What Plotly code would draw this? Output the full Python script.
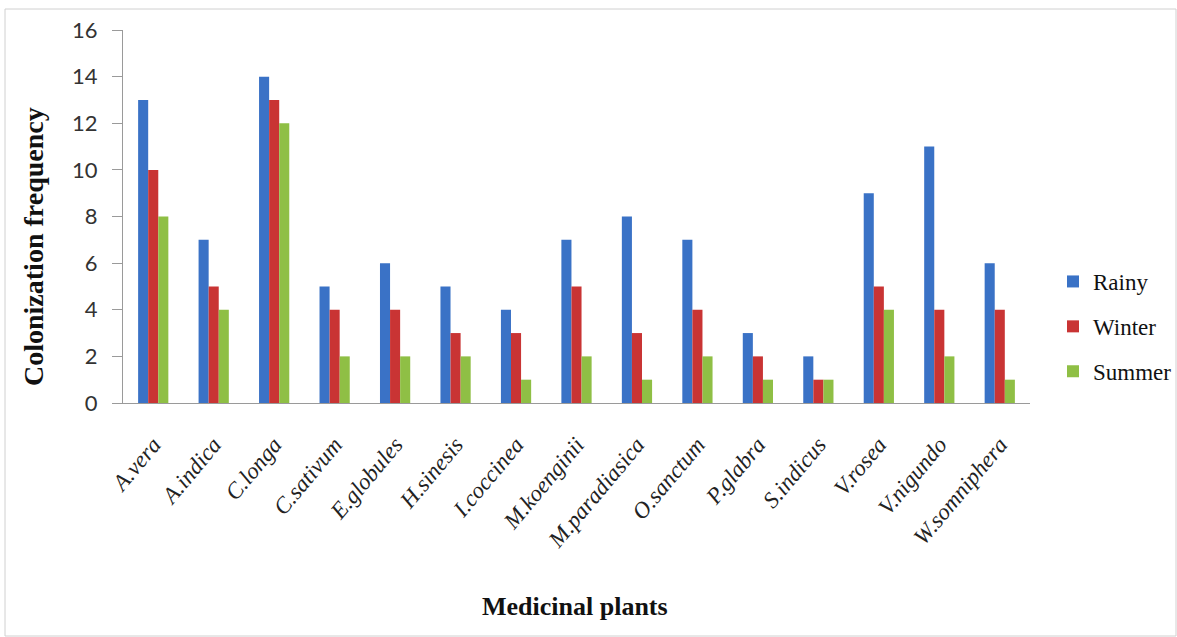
import plotly.graph_objects as go

categories = ["A.vera", "A.indica", "C.longa", "C.sativum", "E.globules", "H.sinesis",
              "I.coccinea", "M.koenginii", "M.paradiasica", "O.sanctum", "P.glabra",
              "S.indicus", "V.rosea", "V.nigundo", "W.somniphera"]
rainy = [13, 7, 14, 5, 6, 5, 4, 7, 8, 7, 3, 2, 9, 11, 6]
winter = [10, 5, 13, 4, 4, 3, 3, 5, 3, 4, 2, 1, 5, 4, 4]
summer = [8, 4, 12, 2, 2, 2, 1, 2, 1, 2, 1, 1, 4, 2, 1]
y_ticks = [0, 2, 4, 6, 8, 10, 12, 14, 16]

W, H = 1177, 637
L, R, T, B = 123, 147, 30, 234
pw, ph = W - L - R, H - T - B

def px_x(p):
    return (p - L) / pw

def px_y(p):
    return (H - B - p) / ph

fig = go.Figure()
series = [("Rainy", rainy, "#3A72C6"), ("Winter", winter, "#C93434"), ("Summer", summer, "#8FBF45")]
for name, vals, col in series:
    fig.add_trace(go.Bar(name=name, x=categories, y=vals, marker=dict(color=col, line=dict(width=0)),
                         legendgroup=name))

fig.update_layout(
    width=W, height=H,
    margin=dict(l=L, r=R, t=T, b=B, autoexpand=False),
    paper_bgcolor="white", plot_bgcolor="white",
    barmode="group", bargap=0.5, bargroupgap=0,
    showlegend=True,
    legend=dict(x=px_x(1053), y=px_y(260), xanchor="left", yanchor="top",
                font=dict(family="Liberation Serif", size=23, color="#111"),
                tracegroupgap=12, itemwidth=30, bgcolor="rgba(0,0,0,0)"),
    xaxis=dict(tickangle=-50, tickfont=dict(family="Liberation Serif", size=23, color="#222", style="italic"),
               showline=True, linecolor="#9a9a9a", linewidth=1, ticks="", showgrid=False,
               ticklabelstandoff=18, range=[-0.5, len(categories) - 0.5]),
    yaxis=dict(range=[0, 16], tickvals=y_ticks, tickfont=dict(family="Lato", size=22, color="#333"),
               showline=True, linecolor="#9a9a9a", linewidth=1, ticks="outside", ticklen=10,
               tickcolor="#9a9a9a", showgrid=False, zeroline=False, ticklabelstandoff=10),
    annotations=[
        dict(text="<b>Colonization frequency</b>", x=px_x(34), y=px_y(247), xref="paper", yref="paper",
             xanchor="center", yanchor="middle",
             textangle=-90, showarrow=False, font=dict(family="Liberation Serif", size=28, color="#111")),
        dict(text="<b>Medicinal plants</b>", x=px_x(575), y=px_y(606), xref="paper", yref="paper",
             xanchor="center", yanchor="middle",
             showarrow=False, font=dict(family="Liberation Serif", size=26, color="#111")),
    ],
    shapes=[dict(type="rect", xref="paper", yref="paper", x0=px_x(5), x1=px_x(1176), y0=px_y(9), y1=px_y(636),
                 line=dict(color="#d0d0d0", width=1), fillcolor="rgba(0,0,0,0)", layer="below")],
)

fig.write_html("out.html", config={"displayModeBar": False},
               post_script="document.body.style.margin='0';document.body.style.overflow='hidden';")
